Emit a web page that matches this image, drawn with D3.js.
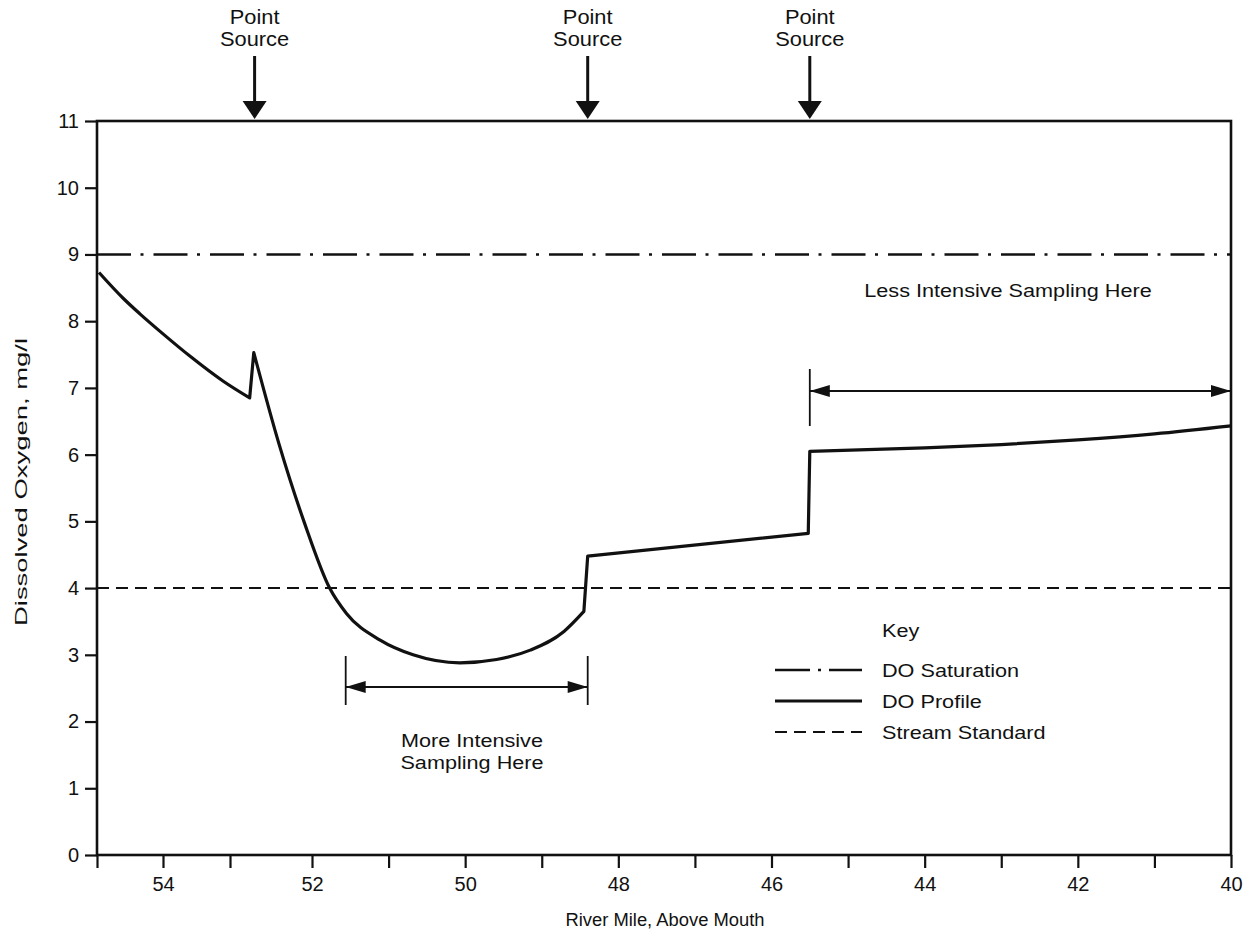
<!DOCTYPE html>
<html>
<head>
<meta charset="utf-8">
<script src="https://cdn.jsdelivr.net/npm/d3@7"></script>
<style>
  body { margin: 0; background: #fff; }
  text { font-family: "Liberation Sans", Arial, Helvetica, sans-serif; fill: #111; }
</style>
</head>
<body>
<svg id="chart" width="1255" height="942"></svg>
<script>
// river mile (x) and dissolved oxygen (y)
const riverMile = [54.97, 54.6, 54.35, 54.0, 53.59, 53.1, 52.76,
  52.71, 52.4, 52.09, 51.77, 51.55, 51.11, 50.68, 50.07, 49.59, 49.15, 48.71, 48.45,
  48.4, 45.52,
  45.5, 44, 43, 42, 41, 40];
const doProfile = [8.73, 8.34, 8.11, 7.81, 7.47, 7.1, 6.85,
  7.53, 6.15, 4.97, 4.0, 3.62, 3.22, 3.0, 2.88, 2.93, 3.07, 3.35, 3.65,
  4.48, 4.82,
  6.05, 6.1, 6.15, 6.22, 6.31, 6.43];

const doSaturation = 9;
const streamStandard = 4;
const pointSources = [52.7, 48.4, 45.5];
const moreIntensive = [51.56, 48.4];
const lessIntensive = [45.5, 40];

const yTicks = d3.range(0, 12);
const xTicks = d3.range(55, 39, -1);
const keyLabels = ["DO Saturation", "DO Profile", "Stream Standard"];

const svg = d3.select("#chart");
const margin = { left: 97, right: 1231, top: 121, bottom: 855 };
const ink = "#111";

// the printed mile axis is not quite even at its left end
const x = d3.scaleLinear().domain([55, 54, 53, 52, 40]).range([margin.left, 163, 230, 312, margin.right]);
const y = d3.scaleLinear().domain([0, 11]).range([margin.bottom, margin.top]);

function label(g, px, py, txt, size, sx, anchor) {
  return g.append("text")
    .attr("transform", `translate(${px},${py}) scale(${sx},1)`)
    .attr("text-anchor", anchor || "middle")
    .style("font-size", size + "px")
    .text(txt);
}

// axes
const yAxis = svg.append("g")
  .attr("transform", `translate(${margin.left},0)`)
  .call(d3.axisLeft(y).tickValues(yTicks).tickSize(12).tickPadding(6));
const xAxis = svg.append("g")
  .attr("transform", `translate(0,${margin.bottom})`)
  .call(d3.axisBottom(x).tickValues(xTicks).tickSize(13).tickPadding(9)
    .tickFormat(d => (d % 2 === 0 ? d : "")));
[yAxis, xAxis].forEach(a => {
  a.attr("font-size", null).attr("font-family", null);
  a.select(".domain").remove();
  a.selectAll(".tick line").attr("stroke", ink).attr("stroke-width", 2.2);
  a.selectAll(".tick text").style("font-size", "20px").attr("fill", ink);
});

// frame
svg.append("rect")
  .attr("x", margin.left).attr("y", margin.top)
  .attr("width", margin.right - margin.left).attr("height", margin.bottom - margin.top)
  .attr("fill", "none").attr("stroke", ink).attr("stroke-width", 2.6);

// reference lines
svg.append("line")
  .attr("x1", margin.left).attr("x2", margin.right)
  .attr("y1", y(doSaturation)).attr("y2", y(doSaturation))
  .attr("stroke", ink).attr("stroke-width", 2.6)
  .attr("stroke-dasharray", "34,9.5,3,10");
svg.append("line")
  .attr("x1", margin.left).attr("x2", margin.right)
  .attr("y1", y(streamStandard)).attr("y2", y(streamStandard))
  .attr("stroke", ink).attr("stroke-width", 2)
  .attr("stroke-dasharray", "12,7");

// DO profile: smooth runs, joined by straight jumps where the profile steps
const pts = riverMile.map((m, i) => [x(m), y(doProfile[i])]);
const runs = [[pts[0]]];
for (let i = 1; i < pts.length; i++) {
  if (Math.abs(pts[i][0] - pts[i - 1][0]) < 6) runs.push([pts[i]]);
  else runs[runs.length - 1].push(pts[i]);
}
const smooth = d3.line().curve(d3.curveMonotoneX);
const d = runs.map((r, i) => {
  const s = r.length > 1 ? smooth(r) : `M${r[0][0]},${r[0][1]}`;
  return i === 0 ? s : "L" + s.slice(1);
}).join("");
svg.append("path")
  .attr("d", d)
  .attr("fill", "none").attr("stroke", ink)
  .attr("stroke-width", 3.2).attr("stroke-linejoin", "round");

// point source arrows
pointSources.forEach(m => {
  const px = x(m);
  svg.append("line").attr("x1", px).attr("x2", px).attr("y1", 56).attr("y2", 104)
    .attr("stroke", ink).attr("stroke-width", 3);
  svg.append("path")
    .attr("d", `M${px - 12},101 L${px + 12},101 L${px},119 Z`)
    .attr("fill", ink);
  label(svg, px, 24, "Point", 19.5, 1.12);
  label(svg, px, 46, "Source", 19.5, 1.12);
});

// double-headed bracket arrows
function bracket(m0, m1, ly, t0, t1) {
  const x0 = x(m0), x1 = x(m1);
  svg.append("line").attr("x1", x0).attr("x2", x1).attr("y1", ly).attr("y2", ly)
    .attr("stroke", ink).attr("stroke-width", 2);
  svg.append("path").attr("d", `M${x0},${ly} L${x0 + 20},${ly - 6} L${x0 + 20},${ly + 6} Z`).attr("fill", ink);
  svg.append("path").attr("d", `M${x1},${ly} L${x1 - 20},${ly - 6} L${x1 - 20},${ly + 6} Z`).attr("fill", ink);
  [x0, x1].forEach(px => {
    svg.append("line").attr("x1", px).attr("x2", px).attr("y1", t0).attr("y2", t1)
      .attr("stroke", ink).attr("stroke-width", 1.8);
  });
}
bracket(moreIntensive[0], moreIntensive[1], 687, 656, 705);
bracket(lessIntensive[0], lessIntensive[1], 391, 369, 426);

label(svg, 472, 747, "More Intensive", 18.5, 1.17);
label(svg, 472, 769, "Sampling Here", 18.5, 1.17);
label(svg, 1008, 297, "Less Intensive Sampling Here", 18.5, 1.17);

// key
label(svg, 882, 637, "Key", 18.5, 1.17, "start");
const keyDash = ["35,8,3,8", null, "12,7"];
const keyWidth = [2.6, 3.2, 2];
keyLabels.forEach((k, i) => {
  const ly = 670 + i * 31;
  svg.append("line").attr("x1", 775).attr("x2", 862).attr("y1", ly).attr("y2", ly)
    .attr("stroke", ink).attr("stroke-width", keyWidth[i])
    .attr("stroke-dasharray", keyDash[i]);
  label(svg, 882, ly + 7, k, 18.5, 1.17, "start");
});

// axis titles
label(svg, 665, 926, "River Mile, Above Mouth", 17.5, 1.05);
svg.append("text")
  .attr("transform", `translate(27,482) rotate(-90)`)
  .attr("text-anchor", "middle")
  .attr("textLength", 288)
  .attr("lengthAdjust", "spacingAndGlyphs")
  .style("font-size", "17px")
  .text("Dissolved Oxygen, mg/l");
</script>
</body>
</html>
